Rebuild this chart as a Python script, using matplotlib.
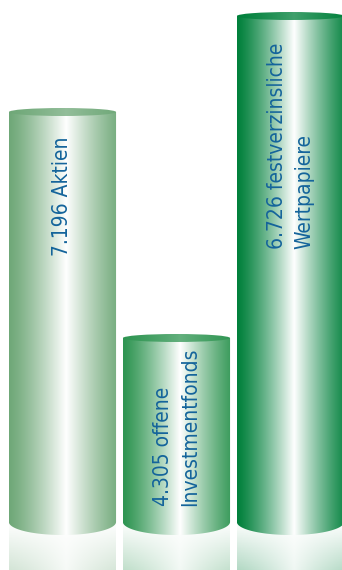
import numpy as np
from matplotlib import pyplot as plt
from matplotlib.path import Path
from matplotlib.patches import PathPatch, Ellipse
from matplotlib.colors import to_rgb

# data (cylinder heights are the drawn heights, not to scale with the counts)
labels = ['7.196 Aktien', '4.305 offene\nInvestmentfonds', '6.726 festverzinsliche\nWertpapiere']
heights = [4.10, 1.84, 5.06]

# styling
edgeCols = ['#6fa878', '#2f9552', '#00803b']
textCol = '#14649b'
textGap = [0.25, 0.10, 0.27]
barW = 0.94
capR = 0.04
baseR = 0.13
reflH = 0.48


def profile(n=200):
    t = np.linspace(0, 1, n)
    f = np.clip(1 - np.abs(t - 0.53) / 0.53, 0, 1) ** 1.25
    return f


def gradRow(col, strength=1.0, n=200):
    c = np.array(to_rgb(col))
    f = profile(n)[:, None] * strength
    return c[None, :] * (1 - f) + f


def cylinder(ax, xc, h, col):
    x0, x1 = xc - barW / 2, xc + barW / 2
    a = barW / 2

    # reflection under the base
    row = gradRow(col, 0.8)
    alpha = np.linspace(0.3, 0.0, 60)[:, None]
    img = np.zeros((60, row.shape[0], 4))
    img[..., :3] = row[None, :, :]
    img[..., 3] = alpha
    im = ax.imshow(img, extent=(x0, x1, 0, -reflH), aspect='auto', origin='upper',
                   interpolation='bilinear', zorder=1)
    clip = PathPatch(Path([(x0, 0), (x1, 0), (x1, -reflH), (x0, -reflH), (x0, 0)]),
                     transform=ax.transData)
    im.set_clip_path(clip)

    # body: rectangle plus lower half of base ellipse
    th = np.linspace(np.pi, 2 * np.pi, 60)
    pts = [(x0, h), (x0, 0)] + [(xc + a * np.cos(t), baseR * np.sin(t)) for t in th] + [(x1, h), (x0, h)]
    body = PathPatch(Path(pts), transform=ax.transData)
    im2 = ax.imshow(gradRow(col)[None, :, :], extent=(x0, x1, -baseR, h), aspect='auto',
                    interpolation='bilinear', zorder=2)
    im2.set_clip_path(body)

    # top cap
    cap = Ellipse((xc, h), barW, 2 * capR, transform=ax.transData)
    im3 = ax.imshow(gradRow(col, 0.25)[None, :, :], extent=(x0, x1, h - capR, h + capR),
                    aspect='auto', interpolation='bilinear', zorder=3)
    im3.set_clip_path(cap)


fig = plt.figure(figsize=(3.42, 5.70), dpi=100)
ax = fig.add_axes([0, 0, 1, 1])

for i, (h, lab, col) in enumerate(zip(heights, labels, edgeCols)):
    cylinder(ax, i, h, col)
    ax.text(i, h - textGap[i], lab, rotation=90, ha='center', va='top',
            multialignment='left', linespacing=1.45, fontsize=15,
            fontstretch='condensed', color=textCol, family='DejaVu Sans', zorder=5)

ax.set_xlim(-0.548, 2.452)
ax.set_ylim(-0.48, 5.22)
ax.axis('off')

fig.savefig('out.png', dpi=100)
